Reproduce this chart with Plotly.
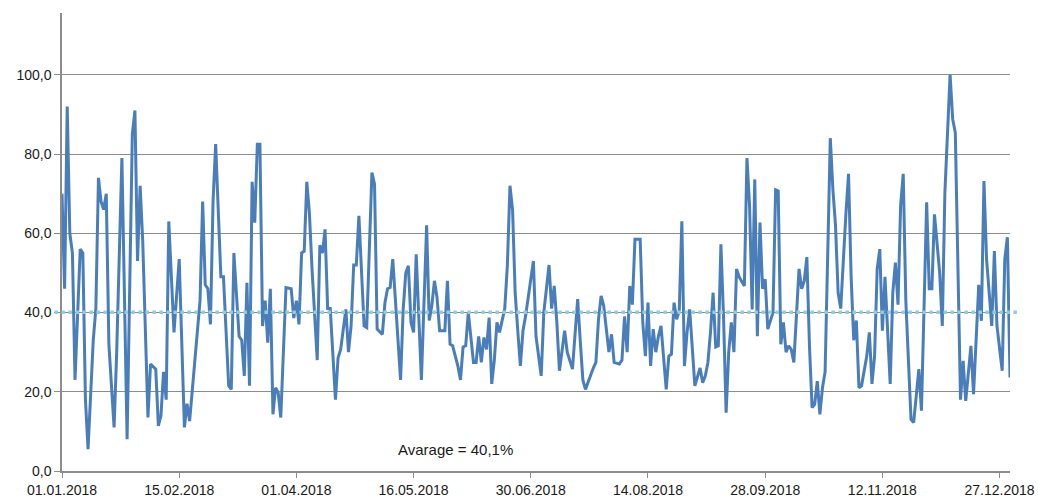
import pandas as pd
import plotly.graph_objects as go

# day-of-year (0 = 01.01.2018) and value of each vertex
DAYS = [
    0, 1, 2, 3, 4, 5, 7, 8, 9, 10, 12, 13, 14, 15, 16, 17, 18, 20, 21, 23, 25, 27, 28, 29, 30,
    31, 33, 34, 36, 37, 38, 39, 40, 41, 43, 45, 47, 48, 49, 51, 53, 54, 55, 56, 57, 58, 59, 61, 62,
    64, 65, 66, 68, 69, 70, 71, 72, 73, 74, 75, 76, 77, 78, 79, 80, 81, 82, 83, 84, 86, 88, 89, 90,
    91, 92, 93, 94, 95, 96, 98, 99, 100, 101, 102, 103, 105, 106, 107, 109, 110, 111, 112, 113,
    114, 116, 117, 119, 120, 121, 123, 124, 125, 126, 127, 128, 130, 131, 132, 133, 134, 135, 136,
    138, 139, 140, 141, 142, 143, 144, 145, 147, 148, 149, 150, 152, 153, 154, 155, 156, 158, 159,
    160, 161, 162, 163, 164, 165, 166, 167, 168, 170, 171, 172, 173, 174, 175, 176, 177, 178, 180,
    181, 182, 184, 185, 187, 188, 189, 190, 191, 193, 194, 196, 197, 198, 199, 200, 201, 203, 204,
    205, 206, 207, 208, 210, 211, 212, 214, 215, 216, 217, 218, 219, 220, 222, 223, 224, 225, 226,
    227, 228, 229, 230, 232, 233, 234, 235, 236, 237, 238, 239, 240, 241, 242, 243, 245, 246, 247,
    248, 249, 250, 251, 252, 253, 254, 255, 256, 257, 258, 259, 260, 262, 263, 264, 265, 266, 267,
    268, 269, 270, 271, 273, 274, 275, 276, 277, 278, 279, 280, 281, 283, 284, 285, 286, 287, 288,
    289, 290, 291, 292, 293, 295, 296, 297, 298, 299, 300, 301, 302, 303, 304, 305, 306, 307, 309,
    310, 311, 312, 313, 314, 315, 316, 318, 319, 320, 321, 322, 323, 324, 326, 327, 329, 330, 332,
    333, 334, 335, 336, 337, 338, 339, 341, 342, 343, 345, 346, 347, 349, 350, 352, 353, 354, 355,
    357, 358, 359, 361, 362, 363, 364,
]
VALUES = [
    70, 46, 92, 60, 55, 23, 56, 55, 18, 5.5, 33, 41, 74, 68, 66, 70, 32, 11, 30, 79, 8, 85, 91, 53, 72,
    58, 13.5, 27, 25.7, 11.4, 14, 25, 18, 63, 35, 53.5, 11, 17, 12.6, 28, 43, 68, 47, 46, 37, 68, 82.5, 49, 49,
    21.5, 20.6, 55, 34, 33, 24, 47.5, 21.5, 73, 62.7, 82.5, 82.5, 36.6, 43, 32.4, 46, 14.3, 21, 19.8, 13.5, 46.3, 46, 38.6, 43,
    37, 55, 55.5, 73, 65, 51, 28, 57, 55, 61, 41, 41, 18, 28.6, 30.7, 40.8, 30, 36.6, 52, 52,
    64.4, 36.6, 36.2, 75.3, 72.4, 35.8, 34.5, 42.5, 46, 46.3, 53.5, 44, 23, 40.8, 50, 51.8, 37.5, 35, 54.7,
    23, 45, 62, 38, 41.7, 48, 43.8, 35.4, 35.4, 48, 32, 31.6, 26.5, 23, 31.3, 31.6, 40, 27.4, 27.4,
    34, 27.4, 33.7, 30.7, 38.7, 22, 28, 37.5, 35, 41, 51.8, 72, 66, 45, 35.4, 26.5, 35.4, 39.1, 48.4,
    53, 34, 24, 40, 52, 41, 46.7, 37.5, 25.3, 35.4, 30, 25.7, 35, 43.4, 32.8, 23, 20.6, 24.4, 26,
    27.4, 38.3, 44.2, 41.7, 30, 34.5, 27.4, 27, 28, 39, 30, 46.7, 42, 58.5, 58.5, 37.5, 29, 42.5, 26.5,
    35.8, 30, 34, 36.6, 20.6, 29, 29.5, 42.5, 38.3, 40.4, 63, 26.5, 35, 40.8, 30, 21.5, 26, 22.3, 24,
    27.4, 35, 45, 31.3, 31.6, 57.2, 39.1, 14.7, 30, 37.5, 30, 51, 49, 46.7, 79, 67, 40.8, 73.6, 34,
    62.7, 46, 48.4, 35.8, 40, 71, 70.7, 32, 37.5, 30, 31.6, 30.7, 27.4, 51, 46, 48, 54, 31.6, 16,
    16.8, 22.7, 14.3, 21, 25, 84, 71, 62, 45, 41, 55, 65, 75, 49, 33, 38, 21, 21.5, 29,
    35, 22, 29, 51, 56, 35.4, 49, 22, 45, 52.6, 42, 67, 75, 43, 13, 12.2, 25.7, 15.2, 67.8,
    46, 46, 64.8, 58, 50, 36.6, 70.3, 100, 88.8, 85.4, 18, 27.8, 17.7, 31.6, 19.4, 47, 37.9, 73.2, 53.5,
    36.6, 55.5, 36.6, 25.3, 53.5, 59, 23.6,
]
AVERAGE = 40.1
Y_TICKS = [0, 20, 40, 60, 80, 100]
X_TICK_DAYS = [0, 45, 90, 135, 180, 225, 270, 315, 360]

start = pd.Timestamp("2018-01-01")
dates = [start + pd.Timedelta(days=d) for d in DAYS]
tick_dates = [start + pd.Timedelta(days=d) for d in X_TICK_DAYS]

FONT = "Liberation Sans, Arial, sans-serif"
GRID = "#8c8c8c"

fig = go.Figure()
fig.add_trace(go.Scatter(
    x=dates, y=VALUES,
    mode="lines",
    line={"color": "#4a7ebb", "width": 3},
    hoverinfo="skip",
))

# average line runs a little past both ends of the plot area
fig.add_shape(type="line", xref="paper", yref="y",
              x0=-0.008, x1=1.009, y0=AVERAGE, y1=AVERAGE,
              line={"color": "#93cddd", "width": 3.5, "dash": "dot"})

fig.add_annotation(
    x=start + pd.Timedelta(days=151), y=5.5, xref="x", yref="y",
    text="Avarage = 40,1%", showarrow=False,
    font={"family": FONT, "size": 15, "color": "#1a1a1a"},
)

fig.update_xaxes(
    type="date",
    range=[start, start + pd.Timedelta(days=364)],
    tickvals=tick_dates,
    ticktext=[t.strftime("%d.%m.%Y") for t in tick_dates],
    showgrid=False, showline=True, linecolor=GRID, linewidth=1.5,
    ticks="outside", ticklen=5, tickcolor=GRID,
    tickfont={"family": FONT, "size": 14, "color": "#1a1a1a"},
    automargin=False,
)
fig.update_yaxes(
    range=[0, 115.6],
    tickvals=Y_TICKS,
    ticktext=[f"{v:.1f}".replace(".", ",") for v in Y_TICKS],
    showgrid=True, gridcolor=GRID, gridwidth=1,
    showline=True, linecolor=GRID, linewidth=1.5,
    ticks="outside", ticklen=6, tickcolor=GRID,
    zeroline=False,
    tickfont={"family": FONT, "size": 14, "color": "#1a1a1a"},
    automargin=False,
)

fig.update_layout(
    width=1038, height=501,
    margin={"l": 62, "r": 28, "t": 13, "b": 30},
    paper_bgcolor="white", plot_bgcolor="white",
    showlegend=False,
)

# drop the default 8px body margin so the figure fills the window exactly
fig.write_html(
    "out.html",
    config={"displayModeBar": False},
    post_script="document.body.style.margin='0';document.body.style.overflow='hidden';",
)
